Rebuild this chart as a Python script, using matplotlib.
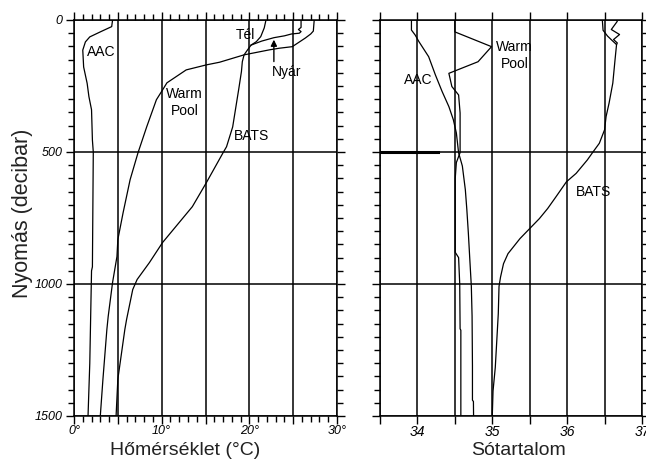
import matplotlib
matplotlib.use('Agg')
import matplotlib.pyplot as plt
from matplotlib.ticker import MultipleLocator, FuncFormatter

plt.rcParams['font.family'] = ['Liberation Sans', 'DejaVu Sans']

# --- temperature profiles (pressure in decibar, temperature in deg C) ---
aac_t_p = [0, 25, 45, 64, 83, 114, 178, 240, 290, 340, 455, 500, 935, 950, 1300, 1500]
aac_t = [4.4, 4.3, 3.0, 1.8, 1.3, 1.0, 1.1, 1.5, 1.7, 2.0, 2.1, 2.2, 2.1, 2.0, 1.8, 1.6]

warm_t_p = [0, 42, 53, 68, 101, 107, 113, 132, 160, 170, 189, 238, 265, 302, 404, 503,
            605, 730, 832, 896, 994, 1123, 1172, 1361, 1500]
warm_t = [27.4, 27.3, 27.0, 26.4, 24.9, 23.4, 22.3, 19.4, 16.6, 15.1, 12.8, 10.6, 10.1, 9.4, 8.3, 7.3,
          6.4, 5.6, 5.0, 4.9, 4.4, 3.9, 3.75, 3.3, 3.0]

bats_t_p = [0, 30, 63, 82, 95, 113, 132, 158, 195, 260, 405, 480, 503, 616, 707, 843,
            919, 983, 1021, 1134, 1172, 1361, 1500]
bats_t = [21.9, 21.7, 21.3, 20.8, 20.2, 19.8, 19.4, 19.2, 19.1, 18.8, 18.1, 17.4, 17.0, 15.1, 13.5, 10.1,
          8.6, 7.2, 6.7, 6.0, 5.8, 5.0, 4.8]

bats_summer_t_p = [0, 28, 36, 44, 50, 53, 60, 67, 80, 95]
bats_summer_t = [25.9, 25.9, 25.6, 25.9, 25.7, 24.8, 24.0, 22.8, 21.4, 20.2]

# --- salinity profiles ---
aac_s_p = [0, 38, 57, 82, 139, 208, 271, 328, 378, 428, 503, 553, 643, 718, 806, 908,
           1008, 1121, 1310, 1440, 1445, 1500]
aac_s = [33.92, 33.92, 33.97, 34.02, 34.15, 34.24, 34.33, 34.42, 34.48, 34.52, 34.55, 34.60, 34.64, 34.66, 34.68, 34.70,
         34.72, 34.73, 34.735, 34.735, 34.748, 34.75]

warm_s_p = [0, 45, 101, 158, 202, 252, 284, 352, 428, 502, 540, 600, 880, 900, 1000, 1170, 1175, 1500]
warm_s = [34.50, 34.50, 34.99, 34.81, 34.42, 34.46, 34.55, 34.57, 34.57, 34.57, 34.52, 34.505, 34.505,
          34.55, 34.565, 34.57, 34.58, 34.58]

bats_s_p = [0, 39, 61, 80, 93, 150, 239, 315, 366, 416, 467, 502, 530, 581, 613, 670, 714, 752,
            828, 885, 923, 974, 1009, 1113, 1215, 1316, 1405, 1500]
bats_s = [36.47, 36.48, 36.54, 36.61, 36.66, 36.64, 36.61, 36.56, 36.52, 36.50, 36.43, 36.34, 36.27, 36.12,
          35.99, 35.85, 35.74, 35.63, 35.37, 35.21, 35.15, 35.11, 35.09, 35.08, 35.06, 35.04, 35.01, 35.00]

bats_summer_s_p = [0, 5, 36, 55, 74, 87, 93]
bats_summer_s = [36.66, 36.67, 36.59, 36.70, 36.62, 36.67, 36.66]

bar_s = [33.5, 34.27]
bar_p = [500, 500]


def styleAxes(ax, xmin, xmax, major, minor, fmt, labelsize):
    ax.set_xlim(xmin, xmax)
    ax.set_ylim(1500, 0)
    ax.xaxis.set_major_locator(MultipleLocator(major))
    if minor:
        ax.xaxis.set_minor_locator(MultipleLocator(minor))
    ax.xaxis.set_major_formatter(FuncFormatter(fmt))
    ax.yaxis.set_major_locator(MultipleLocator(500))
    ax.yaxis.set_minor_locator(MultipleLocator(50))
    ax.grid(True, which='major', color='k', lw=1.1)
    ax.tick_params(which='both', direction='out', top=True, right=True, color='k', width=1.0,
                   labelsize=labelsize, pad=2)
    ax.tick_params(axis='x', which='major', pad=0.5)
    ax.tick_params(which='major', length=6)
    ax.tick_params(which='minor', length=4)
    for s in ax.spines.values():
        s.set_linewidth(1.1)
    for lab in ax.get_xticklabels() + ax.get_yticklabels():
        lab.set_fontstyle('italic')


fig = plt.figure(figsize=(6.46, 4.59), dpi=100)
axT = fig.add_axes([74 / 646, 1 - 416 / 459, 263 / 646, 396 / 459])
axS = fig.add_axes([380 / 646, 1 - 416 / 459, 262 / 646, 396 / 459])

styleAxes(axT, 0, 30, 5, 1, lambda v, pos: '%d°' % round(v) if round(v) % 10 == 0 else '', 9)
styleAxes(axS, 33.5, 37, 0.5, None, lambda v, pos: '%d' % round(v) if abs(v - round(v)) < 1e-6 else '', 10)
axS.tick_params(labelleft=False)

lw = 0.9
axT.plot(aac_t, aac_t_p, 'k', lw=lw)
axT.plot(warm_t, warm_t_p, 'k', lw=lw)
axT.plot(bats_t, bats_t_p, 'k', lw=lw)
axT.plot(bats_summer_t, bats_summer_t_p, 'k', lw=lw)

axS.plot(aac_s, aac_s_p, 'k', lw=lw)
axS.plot(warm_s, warm_s_p, 'k', lw=lw)
axS.plot(bats_s, bats_s_p, 'k', lw=lw)
axS.plot(bats_summer_s, bats_summer_s_p, 'k', lw=lw)
axS.plot(bar_s, bar_p, 'k', lw=2.2)

txt = dict(fontsize=10, ha='center', va='center', color='k')
axT.text(3.1, 121, 'AAC', **txt)
axT.text(19.55, 55, 'Tél', **txt)
axT.text(12.6, 312, 'Warm\nPool', linespacing=1.25, **txt)
axT.text(20.2, 438, 'BATS', **txt)
axT.text(24.2, 196, 'Nyár', **txt)
axT.annotate('', xy=(22.8, 64), xytext=(22.8, 168),
             arrowprops=dict(arrowstyle='-|>', color='k', lw=1.0, mutation_scale=9))

axS.text(35.30, 135, 'Warm\nPool', linespacing=1.25, **txt)
axS.text(34.01, 226, 'AAC', **txt)
axS.text(36.35, 652, 'BATS', **txt)

labfont = dict(fontsize=14, color='#222222')
axT.set_xlabel('Hőmérséklet (°C)', **labfont)
axT.xaxis.set_label_coords(0.422, -0.087)
axT.xaxis.label.set_va('center')
axS.set_xlabel('Sótartalom', **labfont)
axS.xaxis.set_label_coords(0.527, -0.087)
axS.xaxis.label.set_va('center')
axT.set_ylabel('Nyomás (decibar)', fontsize=15.5, color='#222222')
axT.yaxis.set_label_coords(-0.194, 0.513)
axT.yaxis.label.set_va('center')

fig.savefig('out.png', dpi=100)
